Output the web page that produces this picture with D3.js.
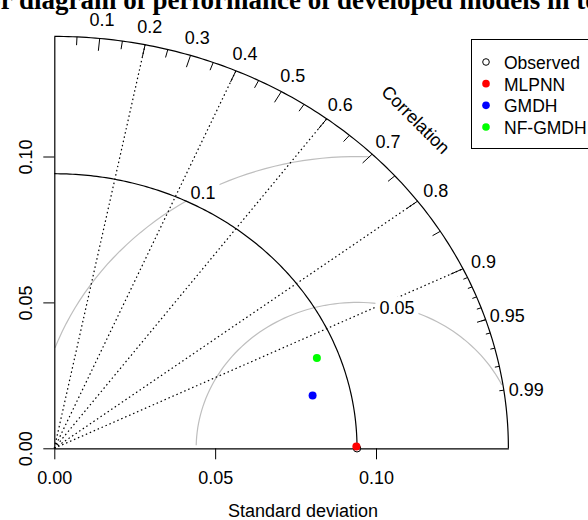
<!DOCTYPE html>
<html>
<head>
<meta charset="utf-8">
<script src="https://cdn.jsdelivr.net/npm/d3@7"></script>
<style>
  body { margin: 0; background: #fff; }
  text { font-family: "Liberation Sans", Arial, sans-serif; fill: #000; }
</style>
</head>
<body>
<div id="chart"></div>
<script>
// Taylor diagram values
const titleText = "Taylor diagram of performance of developed models in testing";
const models = ["MLPNN", "GMDH", "NF-GMDH"];
const modelSd = [0.0939, 0.0823, 0.0873];
const modelCor = [0.99998, 0.9756, 0.935];
const modelColors = ["#ff0000", "#0000ff", "#00ff00"];
const obsSd = 0.0941;
const sdTicks = [0, 0.05, 0.1];
const sdTickLabels = ["0.00", "0.05", "0.10"];
const corLabels = [0.1, 0.2, 0.3, 0.4, 0.5, 0.6, 0.7, 0.8, 0.9, 0.95, 0.99];
const corLines = [0.2, 0.4, 0.6, 0.8, 0.9];
const gammaValues = [0.05, 0.1];

const maxsd = 1.5 * obsSd;
const fontSize = 18;

const svg = d3.select("#chart").append("svg")
    .attr("width", 588)
    .attr("height", 520);

// the plot region is not square, so x and y use their own scales
const x = d3.scaleLinear().domain([0, 0.1]).range([54.3, 376]);
const y = d3.scaleLinear().domain([0, 0.1]).range([448.3, 156.5]);

// title, cut off by the top of the picture
const title = svg.append("text")
    .attr("y", 9)
    .style("font-family", "'Liberation Serif', 'Times New Roman', serif")
    .style("font-weight", "bold")
    .style("font-size", "27px")
    .text(titleText);
const shift = title.node().getSubStringLength(0, 7);
title.attr("x", 19 - shift);

const line = d3.line().x(d => x(d[0])).y(d => y(d[1]));

// gamma (centred RMS) circles, same stepping as plotrix
const gammaSteps = d3.range(0, 105).map(i => i * 0.03);
const gammaLabelPos = [45, 70];
const gammaLabels = [];
gammaValues.forEach(function(g, gi) {
    const pts = gammaSteps.map(t => [Math.cos(t) * g + obsSd, Math.sin(t) * g]);
    let end = pts.findIndex(p => p[0] < 0);
    end = end >= 0 ? end - 1 : pts.length - 1;
    let start = -1;
    pts.forEach((p, i) => { if (p[0] * p[0] + p[1] * p[1] > maxsd * maxsd) start = i; });
    start = start + 1;
    svg.append("path")
        .datum(pts.slice(start, end + 1))
        .attr("fill", "none")
        .attr("stroke", "#bebebe")
        .attr("stroke-width", 1.2)
        .attr("d", line);
    gammaLabels.push({value: g, pos: pts[gammaLabelPos[gi] - 1]});
});

// correlation lines
svg.selectAll(".corr-line")
    .data(corLines)
    .enter().append("path")
    .attr("class", "corr-line")
    .attr("fill", "none")
    .attr("stroke", "#000")
    .attr("stroke-width", 1.2)
    .attr("stroke-dasharray", "1.5,2.8")
    .attr("d", c => line([[0, 0], [maxsd * c, maxsd * Math.sqrt(1 - c * c)]]));

// outer arc
const arcAngles = d3.range(0, Math.PI / 2 + 0.001, 0.01).concat([Math.PI / 2]);
svg.append("path")
    .datum(arcAngles.map(a => [Math.cos(a) * maxsd, Math.sin(a) * maxsd]))
    .attr("fill", "none")
    .attr("stroke", "#000")
    .attr("stroke-width", 1.2)
    .attr("d", line);

// ticks on the outer arc
const bigTicks = d3.range(1, 10).map(i => i / 10);
const medTicks = d3.range(0, 10).map(i => 0.05 + i / 10);
const smlTicks = d3.range(91, 100).map(i => i / 100);
function arcTicks(vals, inner) {
    svg.append("g").selectAll("path")
        .data(vals)
        .enter().append("path")
        .attr("stroke", "#000")
        .attr("stroke-width", 1)
        .attr("d", c => {
            const s = Math.sqrt(1 - c * c);
            return line([[c * maxsd, s * maxsd], [c * inner * maxsd, s * inner * maxsd]]);
        });
}
arcTicks(bigTicks, 0.97);
arcTicks(medTicks, 0.98);
arcTicks(smlTicks, 0.99);

// correlation labels
svg.append("g").selectAll("text")
    .data(corLabels)
    .enter().append("text")
    .attr("x", c => x(c * 1.05 * maxsd))
    .attr("y", c => y(Math.sqrt(1 - c * c) * 1.05 * maxsd) + 2.5)
    .attr("text-anchor", "middle")
    .attr("dominant-baseline", "central")
    .style("font-size", fontSize + "px")
    .text(c => String(c));

svg.append("text")
    .attr("transform", `translate(${x(0.8 * maxsd) - 2},${y(0.8 * maxsd) + 1}) rotate(45)`)
    .attr("text-anchor", "middle")
    .attr("dominant-baseline", "central")
    .style("font-size", fontSize + "px")
    .text("Correlation");

// axes
const xAxisScale = x.copy().domain([0, maxsd]).range([x(0), x(maxsd)]);
const yAxisScale = y.copy().domain([0, maxsd]).range([y(0), y(maxsd)]);

const xAxis = svg.append("g")
    .attr("transform", `translate(0,${y(0)})`)
    .call(d3.axisBottom(xAxisScale).tickValues(sdTicks).tickSize(11).tickSizeOuter(0)
        .tickFormat((d, i) => sdTickLabels[i]));
xAxis.select(".domain").attr("stroke-width", 1.2);
xAxis.selectAll("text")
    .attr("y", 36)
    .attr("dy", 0)
    .style("font-family", "'Liberation Sans', Arial, sans-serif")
    .style("font-size", fontSize + "px")
    .attr("fill", "#000");

const yAxis = svg.append("g")
    .attr("transform", `translate(${x(0)},0)`)
    .call(d3.axisLeft(yAxisScale).tickValues(sdTicks).tickSize(11).tickSizeOuter(0)
        .tickFormat((d, i) => sdTickLabels[i]));
yAxis.select(".domain").attr("stroke-width", 1.2);
yAxis.selectAll("text")
    .attr("x", 0)
    .attr("dy", 0)
    .attr("transform", "translate(-22,0) rotate(-90)")
    .attr("text-anchor", "middle")
    .style("font-family", "'Liberation Sans', Arial, sans-serif")
    .style("font-size", fontSize + "px")
    .attr("fill", "#000");

svg.append("text")
    .attr("x", 303)
    .attr("y", 517)
    .attr("text-anchor", "middle")
    .style("font-size", fontSize + "px")
    .text("Standard deviation");

// gamma labels on white boxes
gammaLabels.forEach(function(g) {
    const gx = x(g.pos[0]), gy = y(g.pos[1]);
    const t = svg.append("text")
        .attr("x", gx)
        .attr("y", gy + 1)
        .attr("text-anchor", "middle")
        .attr("dominant-baseline", "central")
        .style("font-size", fontSize + "px")
        .text(String(g.value));
    const w = t.node().getComputedTextLength() + 8;
    svg.insert("rect", () => t.node())
        .attr("x", gx - w / 2)
        .attr("y", gy - 10)
        .attr("width", w)
        .attr("height", 22)
        .attr("fill", "#fff");
});

// reference sd arc
svg.append("path")
    .datum(arcAngles.map(a => [Math.cos(a) * obsSd, Math.sin(a) * obsSd]))
    .attr("fill", "none")
    .attr("stroke", "#000")
    .attr("stroke-width", 1.2)
    .attr("d", line);

// observed point
svg.append("circle")
    .attr("cx", x(obsSd))
    .attr("cy", y(0))
    .attr("r", 3.7)
    .attr("fill", "none")
    .attr("stroke", "#000");

// model points
svg.selectAll(".model")
    .data(models)
    .enter().append("circle")
    .attr("class", "model")
    .attr("cx", (d, i) => x(modelSd[i] * modelCor[i]))
    .attr("cy", (d, i) => y(modelSd[i] * Math.sqrt(1 - modelCor[i] * modelCor[i])))
    .attr("r", 4)
    .attr("fill", (d, i) => modelColors[i]);

// legend
const legend = svg.append("g");
legend.append("rect")
    .attr("x", 471.5)
    .attr("y", 39.5)
    .attr("width", 140)
    .attr("height", 109)
    .attr("fill", "#fff")
    .attr("stroke", "#000");

const legendNames = ["Observed"].concat(models);
const legendY = d3.scaleLinear().domain([0, 3]).range([62, 127]);
legend.selectAll("circle")
    .data(legendNames)
    .enter().append("circle")
    .attr("cx", 486)
    .attr("cy", (d, i) => legendY(i))
    .attr("r", (d, i) => i === 0 ? 3.3 : 3.8)
    .attr("fill", (d, i) => i === 0 ? "none" : modelColors[i - 1])
    .attr("stroke", (d, i) => i === 0 ? "#000" : "none");
legend.selectAll("text")
    .data(legendNames)
    .enter().append("text")
    .attr("x", 504)
    .attr("y", (d, i) => legendY(i) + 1)
    .attr("dominant-baseline", "central")
    .style("font-size", "17.5px")
    .text(d => d);
</script>
</body>
</html>
